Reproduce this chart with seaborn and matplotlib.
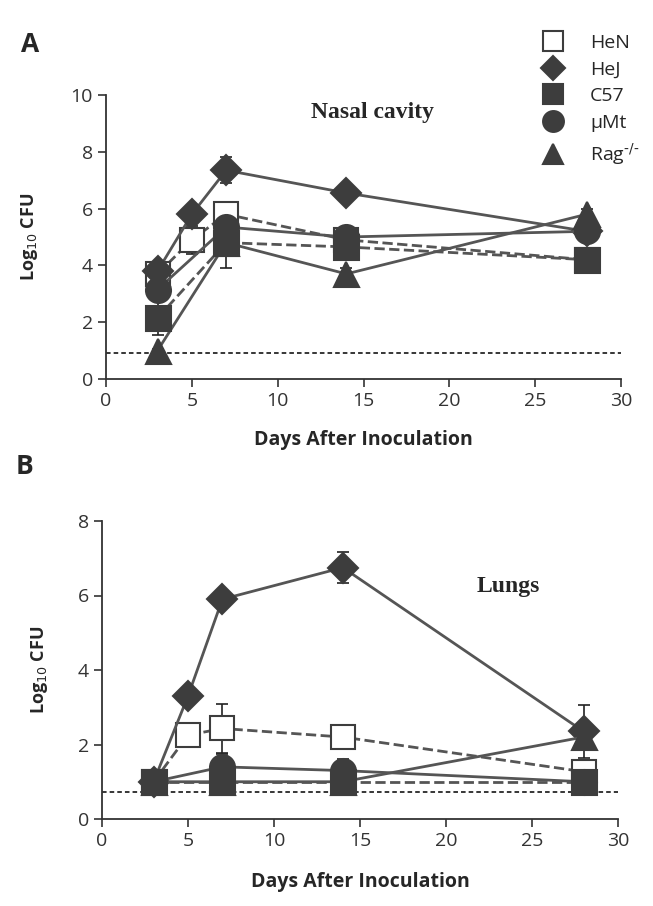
import numpy as np
import pandas as pd
import matplotlib
matplotlib.use("Agg")
import matplotlib.pyplot as plt
import seaborn as sns
from matplotlib.lines import Line2D

sns.set_style("white")
plt.rcParams['font.family'] = ['Open Sans', 'DejaVu Sans']

# ---------------- data ----------------
strains = ["HeN", "HeJ", "C57", "μMt", "Rag"]
labels = ["HeN", "HeJ", "C57", "μMt", "Rag$^{\u2010/\u2010}$"]

# Nasal cavity
nasal_days = {
    "HeN": [3, 5, 7, 14, 28],
    "HeJ": [3, 5, 7, 14, 28],
    "C57": [3, 7, 14, 28],
    "μMt": [3, 7, 14, 28],
    "Rag": [3, 7, 14, 28],
}
nasal_vals = {
    "HeN": [3.7, 4.9, 5.8, 4.9, 4.2],
    "HeJ": [3.8, 5.8, 7.35, 6.55, 5.2],
    "C57": [2.15, 4.8, 4.65, 4.2],
    "μMt": [3.15, 5.35, 5.0, 5.2],
    "Rag": [1.0, 4.8, 3.7, 5.8],
}
nasal_err = {
    "HeN": [0.2, 0.5, 0.3, 0.1, 0.1],
    "HeJ": [0.2, 0.2, 0.45, 0.15, 0.1],
    "C57": [0.6, 0.3, 0.2, 0.4],
    "μMt": [0.2, 0.2, 0.15, 0.25],
    "Rag": [0.05, 0.9, 0.2, 0.2],
}
nasal_limit = 0.9

# Lungs
lung_days = {
    "HeN": [3, 5, 7, 14, 28],
    "HeJ": [3, 5, 7, 14, 28],
    "C57": [3, 7, 14, 28],
    "μMt": [3, 7, 14, 28],
    "Rag": [3, 7, 14, 28],
}
lung_vals = {
    "HeN": [1.0, 2.25, 2.43, 2.2, 1.27],
    "HeJ": [1.0, 3.3, 5.9, 6.75, 2.35],
    "C57": [1.0, 1.0, 1.0, 1.0],
    "μMt": [1.0, 1.4, 1.3, 1.0],
    "Rag": [1.0, 1.0, 1.0, 2.2],
}
lung_err = {
    "HeN": [0.0, 0.05, 0.65, 0.05, 0.25],
    "HeJ": [0.0, 0.05, 0.2, 0.42, 0.72],
    "C57": [0.0, 0.0, 0.0, 0.0],
    "μMt": [0.0, 0.35, 0.3, 0.0],
    "Rag": [0.0, 0.0, 0.0, 0.1],
}
lung_limit = 0.72

# ---------------- styles ----------------
dark = "#3d3d3d"
linec = "#555555"
style = {
    "HeN": dict(marker="s", ms=17, mfc="white", ls="--"),
    "HeJ": dict(marker="D", ms=15, mfc=dark, ls="-"),
    "C57": dict(marker="s", ms=18, mfc=dark, ls="--"),
    "μMt": dict(marker="o", ms=18, mfc=dark, ls="-"),
    "Rag": dict(marker="^", ms=18, mfc=dark, ls="-"),
}
draw_order = ["HeN", "HeJ", "μMt", "Rag", "C57"]


def panel(ax, days, vals, errs, limit, ymax, title, title_xy, ylpad, xlpad):
    for s in draw_order:
        df = pd.DataFrame({"day": days[s], "cfu": vals[s]})
        st = style[s]
        ax.errorbar(df["day"], df["cfu"], yerr=errs[s], fmt="none",
                    ecolor="#222222", elinewidth=1.2, capsize=4, capthick=1.2,
                    zorder=2)
        sns.lineplot(data=df, x="day", y="cfu", ax=ax, color=linec,
                     linewidth=2, linestyle=st["ls"], marker=st["marker"],
                     markersize=st["ms"], markerfacecolor=st["mfc"],
                     markeredgecolor=dark, markeredgewidth=1.5,
                     errorbar=None, zorder=3)
    ax.axhline(limit, color="black", linestyle=(0, (3, 2)), linewidth=1.1,
               zorder=1)
    ax.set_xlim(0, 30)
    ax.set_ylim(0, ymax)
    ax.set_xticks(range(0, 31, 5))
    ax.set_yticks(range(0, ymax + 1, 2))
    ax.tick_params(axis="both", direction="out", length=6, width=1.2,
                   labelsize=14, colors="#333333", left=True, bottom=True)
    for sp in ["top", "right"]:
        ax.spines[sp].set_visible(False)
    for sp in ["left", "bottom"]:
        ax.spines[sp].set_color("#333333")
        ax.spines[sp].set_linewidth(1.3)
    ax.set_xlabel("Days After Inoculation", fontsize=14, fontweight="bold",
                  labelpad=xlpad)
    ax.set_ylabel("Log$_{10}$ CFU", fontsize=13, fontweight="bold",
                  labelpad=ylpad)
    ax.text(title_xy[0], title_xy[1], title, transform=ax.transData,
            fontsize=17, fontweight="bold", family="Liberation Serif",
            ha="center", va="center")


fig = plt.figure(figsize=(6.53, 9.06), dpi=100)
ax1 = fig.add_axes([106 / 653, 1 - 379 / 906, 515 / 653, 284 / 906])
ax2 = fig.add_axes([102 / 653, 1 - 819 / 906, 516 / 653, 298 / 906])

panel(ax1, nasal_days, nasal_vals, nasal_err, nasal_limit, 10,
      "Nasal cavity", (15.5, 9.4), 22, 14)
panel(ax2, lung_days, lung_vals, lung_err, lung_limit, 8,
      "Lungs", (23.6, 6.25), 20, 16)

fig.text(30 / 653, 1 - 45 / 906, "A", fontsize=19, fontweight="bold",
         ha="center", va="center")
fig.text(25 / 653, 1 - 467 / 906, "B", fontsize=19, fontweight="bold",
         ha="center", va="center")

handles = []
for s, lab in zip(strains, labels):
    st = style[s]
    handles.append(Line2D([], [], linestyle="none", marker=st["marker"],
                          markersize=st["ms"] - 3, markerfacecolor=st["mfc"],
                          markeredgecolor=dark, markeredgewidth=1.5,
                          label=lab))
fig.legend(handles=handles, loc="upper left",
           bbox_to_anchor=(526 / 653, 1 - 26 / 906), frameon=False,
           fontsize=14, labelspacing=0.45, handletextpad=0.9,
           borderaxespad=0)

fig.savefig("out.png", dpi=100, facecolor="white")
